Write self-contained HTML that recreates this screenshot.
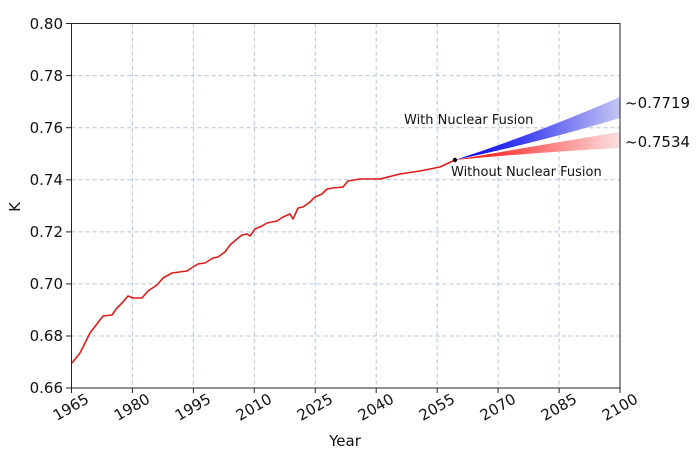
<!DOCTYPE html>
<html><head><meta charset="utf-8"><style>body{margin:0;background:#fff}</style></head><body>
<svg width="700" height="462" viewBox="0 0 700 462" xmlns="http://www.w3.org/2000/svg" font-family="DejaVu Sans, Liberation Sans, sans-serif">
<defs>
<linearGradient id="gb" x1="455" y1="0" x2="620" y2="0" gradientUnits="userSpaceOnUse"><stop offset="0" stop-color="#0000ee"/><stop offset="0.4" stop-color="#3a3ef0"/><stop offset="1" stop-color="#c4c6f2"/></linearGradient>
<linearGradient id="gr" x1="455" y1="0" x2="620" y2="0" gradientUnits="userSpaceOnUse"><stop offset="0" stop-color="#ff0000"/><stop offset="1" stop-color="#fbe0e0"/></linearGradient>
</defs>
<g stroke="#b0c4de" stroke-width="1" stroke-dasharray="4,3">
<line x1="71.5" x2="620" y1="75.6" y2="75.6"/><line x1="71.5" x2="620" y1="127.7" y2="127.7"/><line x1="71.5" x2="620" y1="179.8" y2="179.8"/><line x1="71.5" x2="620" y1="231.9" y2="231.9"/><line x1="71.5" x2="620" y1="283.9" y2="283.9"/><line x1="71.5" x2="620" y1="336" y2="336"/>
<line y1="23.5" y2="388" x1="132.4" x2="132.4"/><line y1="23.5" y2="388" x1="193.4" x2="193.4"/><line y1="23.5" y2="388" x1="254.3" x2="254.3"/><line y1="23.5" y2="388" x1="315.3" x2="315.3"/><line y1="23.5" y2="388" x1="376.2" x2="376.2"/><line y1="23.5" y2="388" x1="437.2" x2="437.2"/><line y1="23.5" y2="388" x1="498.1" x2="498.1"/><line y1="23.5" y2="388" x1="559.1" x2="559.1"/>
</g>
<path d="M455,160 Q540,145 620,132 L620,148 Q540,152 455,160Z" fill="url(#gr)"/>
<path d="M455,160 Q540,132 620,97 L620,118 Q540,142 455,160Z" fill="url(#gb)"/>
<polyline fill="none" stroke="#dd1c1c" stroke-width="1.6" stroke-linejoin="round" points="72,363 80,353 90,333 103,316 112,315 117,308 122,303 128,296 133,298 142,298 148,291 157,285 163,278 172,273 187,271 193,267 198,264 205,263 213,258 218,257 225,252 230,245 237,239 242,235 247,234 250,236 255,229 262,226 267,223 277,221 283,217 290,214 293,219 298,208 303,207 310,202 315,197 322,194 327,189 333,188 343,187 348,181 360,179 380,179 400,174 420,171 440,167 455,160"/>
<circle cx="455" cy="160" r="2.2" fill="#000"/>
<rect x="71.5" y="23.5" width="548.5" height="364.5" fill="none" stroke="#222" stroke-width="1"/>
<g stroke="#222"><line x1="66" x2="71.5" y1="23.5" y2="23.5"/><line x1="66" x2="71.5" y1="75.6" y2="75.6"/><line x1="66" x2="71.5" y1="127.7" y2="127.7"/><line x1="66" x2="71.5" y1="179.8" y2="179.8"/><line x1="66" x2="71.5" y1="231.9" y2="231.9"/><line x1="66" x2="71.5" y1="283.9" y2="283.9"/><line x1="66" x2="71.5" y1="336" y2="336"/><line x1="66" x2="71.5" y1="388" y2="388"/>
<line y1="388" y2="393" x1="71.5" x2="71.5"/><line y1="388" y2="393" x1="132.4" x2="132.4"/><line y1="388" y2="393" x1="193.4" x2="193.4"/><line y1="388" y2="393" x1="254.3" x2="254.3"/><line y1="388" y2="393" x1="315.3" x2="315.3"/><line y1="388" y2="393" x1="376.2" x2="376.2"/><line y1="388" y2="393" x1="437.2" x2="437.2"/><line y1="388" y2="393" x1="498.1" x2="498.1"/><line y1="388" y2="393" x1="559.1" x2="559.1"/><line y1="388" y2="393" x1="620" x2="620" /></g>
<g font-size="15" fill="#111" text-anchor="end">
<text x="63" y="29">0.80</text><text x="63" y="81">0.78</text><text x="63" y="133">0.76</text><text x="63" y="185">0.74</text><text x="63" y="237">0.72</text><text x="63" y="289">0.70</text><text x="63" y="341">0.68</text><text x="63" y="393">0.66</text>
<text transform="translate(90,402) rotate(-30)">1965</text><text transform="translate(151,402) rotate(-30)">1980</text><text transform="translate(212,402) rotate(-30)">1995</text><text transform="translate(273,402) rotate(-30)">2010</text><text transform="translate(334,402) rotate(-30)">2025</text><text transform="translate(395,402) rotate(-30)">2040</text><text transform="translate(456,402) rotate(-30)">2055</text><text transform="translate(517,402) rotate(-30)">2070</text><text transform="translate(578,402) rotate(-30)">2085</text><text transform="translate(639,402) rotate(-30)">2100</text>
</g>
<text x="345" y="446" font-size="15" text-anchor="middle" fill="#111">Year</text>
<text transform="translate(20,207) rotate(-90)" font-size="15" text-anchor="middle" fill="#111">K</text>
<text x="404" y="124" font-size="13" fill="#111">With Nuclear Fusion</text>
<text x="451" y="176" font-size="13" fill="#111">Without Nuclear Fusion</text>
<text x="625" y="108" font-size="15" fill="#111">~0.7719</text>
<text x="625" y="147" font-size="15" fill="#111">~0.7534</text>
</svg>
</body></html>
